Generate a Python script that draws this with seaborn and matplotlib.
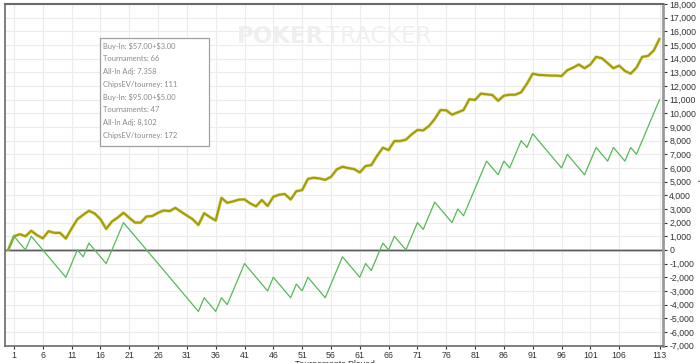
import numpy as np
import pandas as pd
import matplotlib
matplotlib.use("Agg")
import matplotlib.pyplot as plt
import seaborn as sns

# cumulative all-in adjusted chips, one value per tournament (0..113)
allin_adj = [0, 1000, 1150, 1000, 1400, 1080, 850, 1370, 1250, 1250,
             830, 1570, 2250, 2570, 2860, 2670, 2250, 1540, 2080, 2370,
             2720, 2350, 2000, 2000, 2450, 2480, 2720, 2890, 2840, 3080,
             2790, 2520, 2250, 1830, 2690, 2400, 2150, 3810, 3450, 3550,
             3680, 3700, 3400, 3190, 3650, 3220, 3890, 4040, 4090, 3690,
             4300, 4380, 5200, 5280, 5230, 5130, 5350, 5890, 6090, 5990,
             5920, 5670, 6140, 6210, 6890, 7480, 7310, 7970, 7970, 8070,
             8460, 8780, 8750, 9070, 9580, 10240, 10220, 9900, 10070, 10240,
             11030, 10980, 11440, 11390, 11340, 10920, 11290, 11360, 11360, 11540,
             12170, 12900, 12810, 12790, 12760, 12760, 12730, 13150, 13340, 13570,
             13300, 13570, 14130, 14030, 13670, 13300, 13490, 13100, 12900, 13340,
             14130, 14200, 14590, 15450]

# chips won line (turning points only)
won_x = [0, 1, 3, 4, 10, 12, 13, 14, 17, 20, 33, 34, 36, 37, 38, 41, 45, 46,
         49, 50, 51, 52, 55, 58, 61, 62, 63, 65, 66, 67, 69, 71, 72, 74, 77,
         78, 79, 83, 85, 86, 87, 89, 90, 91, 96, 97, 100, 102, 104, 105, 107,
         108, 109, 113]
won_y = [0, 1000, 0, 1000, -2000, 0, -500, 500, -1000, 2000, -4500, -3500,
         -4500, -3500, -4000, -1000, -3000, -2000, -3500, -2500, -3000, -2000,
         -3500, -500, -2000, -1000, -1500, 500, 0, 1000, 0, 2000, 1500, 3500,
         2000, 3000, 2500, 6500, 5500, 6500, 6000, 8000, 7500, 8500, 6000, 7000,
         5500, 7500, 6500, 7500, 6500, 7500, 7000, 11000]

x_ticks = list(range(1, 107, 5)) + [113]
y_ticks = list(range(-7000, 18001, 1000))

tooltip = ["Buy-In: $57.00+$3.00", "Tournaments: 66", "All-In Adj: 7,358",
           "ChipsEV/tourney: 111", "Buy-In: $95.00+$5.00", "Tournaments: 47",
           "All-In Adj: 8,102", "ChipsEV/tourney: 172"]

sns.set_theme(style="whitegrid")
plt.rcParams["font.family"] = ["Liberation Sans", "DejaVu Sans"]

df_adj = pd.DataFrame({"t": np.arange(len(allin_adj)), "chips": allin_adj})
df_won = pd.DataFrame({"t": won_x, "chips": won_y})

fig = plt.figure(figsize=(7, 3.63), dpi=100)
ax = fig.add_axes([0.0076, 0.048, 0.9395, 0.941])

ax.axhline(0, color="#d4d4d4", lw=2.0, zorder=1.5)
ax.axhline(0, color="#5a5a5a", lw=1.0, zorder=1.6)

sns.lineplot(data=df_adj, x="t", y="chips", ax=ax, color="#d2cd8a", lw=2.6,
             alpha=0.5, estimator=None, sort=False)
sns.lineplot(data=df_adj, x="t", y="chips", ax=ax, color="#a59e00", lw=1.6,
             estimator=None, sort=False)
sns.lineplot(data=df_won, x="t", y="chips", ax=ax, color="#58b858", lw=0.9,
             estimator=None, sort=False)

ax.set_xlim(-0.5, 113.6)
ax.set_ylim(-7000, 18000)
ax.set_xticks(x_ticks)
ax.set_yticks(y_ticks)
ax.set_yticklabels([f"{v:,}" for v in y_ticks])
ax.yaxis.tick_right()
ax.set_xlabel("")
ax.set_ylabel("")
ax.grid(True, color="#ececec", lw=0.8)
ax.tick_params(axis="y", labelsize=6.3, colors="#333333", length=3, width=0.8,
               pad=1.5, right=True, left=False)
ax.tick_params(axis="x", labelsize=6.3, colors="#333333", length=2.5, width=0.8,
               pad=1.5, bottom=True)
for lab in ax.get_yticklabels() + ax.get_xticklabels():
    lab.set_color("#333333")

for side, c, w in [("top", "#6a6a6a", 1.5), ("left", "#6a6a6a", 1.2),
                   ("bottom", "#6a6a6a", 1.2), ("right", "#9a9a9a", 2.0)]:
    ax.spines[side].set_visible(True)
    ax.spines[side].set_color(c)
    ax.spines[side].set_linewidth(w)

# watermark
ax.text(0.352, 0.905, "POKER", transform=ax.transAxes, fontsize=16.5,
        fontweight="bold", color="#efefef", ha="left", va="center", zorder=0,
        family=["DejaVu Sans"])
ax.text(0.488, 0.905, "TRACKER", transform=ax.transAxes, fontsize=16.5,
        color="#f1f1f1", ha="left", va="center", zorder=0,
        family=["DejaVu Sans"])

# tooltip box
box = plt.Rectangle((100 / 700, 1 - 146 / 363), 109 / 700, 108 / 363,
                    transform=fig.transFigure, facecolor="white",
                    edgecolor="#a0a0a0", lw=0.9, zorder=5)
fig.add_artist(box)
for k, line in enumerate(tooltip):
    fig.text(103 / 700, 1 - (46 + k * 12.8) / 363, line, fontsize=5.4,
             color="#8a8a8a", ha="left", va="center", zorder=6,
             family=["Lato", "DejaVu Sans"], parse_math=False)

fig.text(335 / 700, 1 - 360 / 363, "Tournaments Played", fontsize=6.3,
         color="#333333", ha="center", va="top")
fig.text(701 / 700, 1 - 178 / 363, "Chips", fontsize=6.3, color="#333333",
         ha="center", va="center", rotation=270)

fig.savefig("out.png", dpi=100)
